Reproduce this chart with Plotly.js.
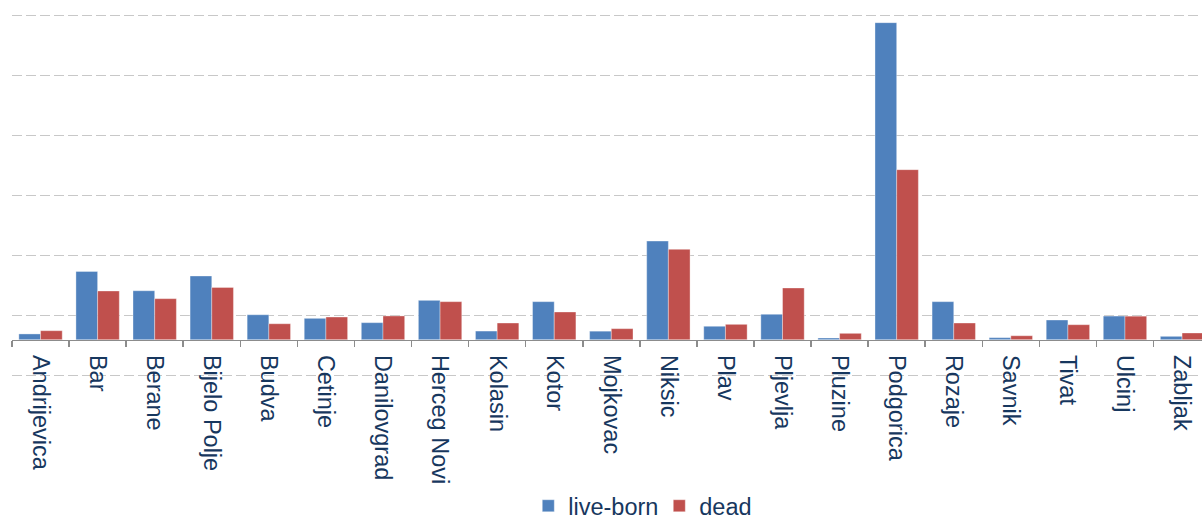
<!DOCTYPE html>
<html>
<head>
<meta charset="utf-8">
<script src="https://cdn.plot.ly/plotly-3.0.1.min.js"></script>
<style>
html,body{margin:0;padding:0;background:#fff;}
#chart{width:1202px;height:524px;}
</style>
</head>
<body>
<div id="chart"></div>
<script>
const municipalities = ["Andrijevica","Bar","Berane","Bijelo Polje","Budva","Cetinje","Danilovgrad","Herceg Novi","Kolasin","Kotor","Mojkovac","Niksic","Plav","Pljevlja","Pluzine","Podgorica","Rozaje","Savnik","Tivat","Ulcinj","Zabljak"];
const liveBorn = [48, 569, 408, 531, 208, 178, 142, 328, 72, 317, 71, 822, 112, 212, 14, 2642, 317, 17, 164, 197, 28];
const dead     = [75, 406, 342, 436, 133, 189, 198, 317, 139, 231, 92, 753, 128, 431, 53, 1417, 139, 33, 125, 196, 56];
const seriesNames = ["live-born", "dead"];

const W = 1202, H = 524;
const marginL = 11.5;
const catW = 57.1;
const plotW = W - marginL;
const xRight = -0.5 + plotW / catW;

// y scale: 500 units per 60 px, zero at pixel 339.7
const pxPerUnit = 60 / 500;
const zeroPx = 339.7;
const plotBottomPx = 405;
const yTop = zeroPx / pxPerUnit;
const yBottom = -(plotBottomPx - zeroPx) / pxPerUnit;
const gridOffset = ((zeroPx - 15.5) / pxPerUnit) % 500;

const traces = [
  {type:"bar", name:seriesNames[0], x:municipalities, y:liveBorn,
   marker:{color:"#4F81BD", line:{color:"rgba(255,255,255,0.35)", width:1}}},
  {type:"bar", name:seriesNames[1], x:municipalities, y:dead,
   marker:{color:"#C0504D", line:{color:"rgba(255,255,255,0.35)", width:1}}}
];

const layout = {
  width: W, height: H,
  margin: {l: marginL, r: 0, t: 0, b: 0, pad: 0, autoexpand: false},
  paper_bgcolor: "#ffffff", plot_bgcolor: "rgba(0,0,0,0)",
  font: {family: "Liberation Sans, Arial, sans-serif", color: "#17375E", size: 23.5},
  barmode: "group", bargap: 0.24, bargroupgap: 0,
  showlegend: true,
  legend: {orientation: "h", x: (528 - marginL) / plotW, xanchor: "left",
           y: (H - 506) / H, yanchor: "middle",
           font: {size: 23.5, color: "#17375E"}, bgcolor: "rgba(0,0,0,0)",
           traceorder: "normal", entrywidth: 86, entrywidthmode: "pixels"},
  xaxis: {type: "category", range: [-0.5, xRight],
          anchor: "free", position: (H - zeroPx) / H, automargin: false,
          showline: true, linecolor: "#8C8C8C", linewidth: 1.5,
          ticks: "outside", tickson: "boundaries", ticklen: 6, tickwidth: 1.5, tickcolor: "#8C8C8C",
          tickangle: 90, ticklabelstandoff: 9,
          tickfont: {size: 23.5, color: "#17375E"},
          showgrid: false, zeroline: false, fixedrange: true},
  yaxis: {range: [yBottom, yTop], domain: [(H - plotBottomPx) / H, 1], automargin: false,
          showticklabels: false, ticks: "",
          tick0: gridOffset, dtick: 500, tickmode: "linear",
          showgrid: true, gridcolor: "#C8C8C8", gridwidth: 1.6, griddash: "10px,4px",
          zeroline: false, showline: false, fixedrange: true}
};

Plotly.newPlot("chart", traces, layout, {displayModeBar: false, staticPlot: true});
</script>
</body>
</html>
